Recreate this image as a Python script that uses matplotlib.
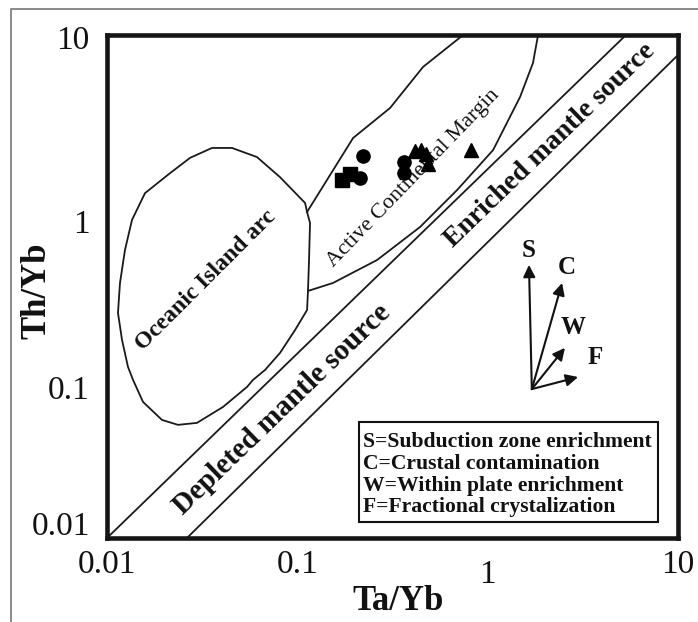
import matplotlib
matplotlib.use("Agg")
import matplotlib.pyplot as plt
from matplotlib.lines import Line2D
from matplotlib.patches import Rectangle, Polygon
import matplotlib.transforms as mtransforms

plt.rcParams['font.family'] = ['Liberation Serif', 'DejaVu Serif']

# ---------------- data ----------------
# Sample points (Ta/Yb, Th/Yb)
sq_x = [0.172, 0.189]
sq_y = [1.36, 1.48]
ci_x = [0.221, 0.213, 0.364, 0.364]
ci_y = [1.90, 1.40, 1.75, 1.50]
tr_x = [0.416, 0.447, 0.474, 0.486, 0.819]
tr_y = [2.03, 2.06, 1.95, 1.70, 2.06]

# Oceanic island arc field boundary
oia_x = [0.0356, 0.0454, 0.0614, 0.0811, 0.1098, 0.1125, 0.1166, 0.1152, 0.1138,
         0.1125, 0.0973, 0.0811, 0.0677, 0.0585, 0.0544, 0.0407, 0.0297, 0.0236,
         0.01945, 0.01546, 0.0137, 0.01289, 0.01199, 0.01142, 0.0117, 0.01243,
         0.01353, 0.01584, 0.02144, 0.0273]
oia_y = [2.12, 2.12, 1.87, 1.42, 0.996, 0.880, 0.757, 0.455, 0.302,
         0.229, 0.174, 0.127, 0.1006, 0.0877, 0.0796, 0.0605, 0.0486, 0.0473,
         0.0506, 0.0648, 0.0877, 0.1048, 0.152, 0.220, 0.332, 0.522,
         0.789, 1.14, 1.50, 1.85]

# Active continental margin boundaries
acm_left_x = [0.1125, 0.1963, 0.307, 0.4577, 0.743]
acm_left_y = [0.880, 2.43, 3.67, 6.45, 10.0]
acm_right_x = [0.1138, 0.154, 0.2624, 0.4414, 0.691, 1.068, 1.48, 1.73, 1.84]
acm_right_y = [0.2975, 0.332, 0.455, 0.716, 1.19, 2.06, 4.27, 6.81, 10.0]

# Mantle array boundaries
mantle_upper_x = [0.01, 5.33]
mantle_upper_y = [0.01, 10.0]
mantle_lower_x = [0.0263, 10.0]
mantle_lower_y = [0.01, 7.6]

# Tick labels
xtick_vals = [0.01, 0.1, 1, 10]
xtick_labels = ['0.01', '0.1', '1', '10']
ytick_vals = [10, 1, 0.1, 0.01]
ytick_labels = ['10', '1', '0.1', '0.01']

# Vector legend (letters, arrow tips in axes fraction, origin shared)
vec_names = ['S', 'C', 'W', 'F']
vec_tip_x = [0.739, 0.797, 0.802, 0.825]
vec_tip_y = [0.543, 0.507, 0.378, 0.320]
vec_lab_x = [0.739, 0.806, 0.816, 0.855]
vec_lab_y = [0.572, 0.538, 0.419, 0.358]
vec_origin = (0.744, 0.296)

key_lines = ['S=Subduction zone enrichment',
             'C=Crustal contamination',
             'W=Within plate enrichment',
             'F=Fractional crystalization']

# ---------------- figure ----------------
W, H = 698, 622
fig = plt.figure(figsize=(W / 100, H / 100), dpi=100)
ax = fig.add_axes([107 / W, 1 - 538 / H, 571 / W, 503 / H])
ax.set_xscale('log')
ax.set_yscale('log')
ax.set_xlim(0.01, 10)
ax.set_ylim(0.01, 10)
ax.set_xticks([])
ax.set_yticks([])
ax.xaxis.set_minor_locator(matplotlib.ticker.NullLocator())
ax.yaxis.set_minor_locator(matplotlib.ticker.NullLocator())
for s in ax.spines.values():
    s.set_linewidth(3.3)
    s.set_color('#151515')

lc = '#1a1a1a'
lw = 1.3
ax.add_patch(Polygon(list(zip(oia_x, oia_y)), closed=True, fill=False,
                     edgecolor=lc, linewidth=lw))
ax.plot(acm_left_x, acm_left_y, color=lc, lw=lw)
ax.plot(acm_right_x, acm_right_y, color=lc, lw=lw)
ax.plot(mantle_upper_x, mantle_upper_y, color=lc, lw=lw)
ax.plot(mantle_lower_x, mantle_lower_y, color=lc, lw=lw)

ax.plot(sq_x, sq_y, 's', color='black', ms=9.5, zorder=5)
ax.plot(ci_x, ci_y, 'o', color='black', ms=9.5, zorder=5)
ax.plot(tr_x, tr_y, '^', color='black', ms=9.5, zorder=5)

# field labels
ax.text(0.173, 0.513, 'Oceanic Island arc', transform=ax.transAxes, rotation=45,
        rotation_mode='anchor', ha='center', va='center', fontsize=17,
        fontweight='bold', color='#111')
ax.text(0.536, 0.716, 'Active Continental Margin', transform=ax.transAxes,
        rotation=46, rotation_mode='anchor', ha='center', va='center',
        fontsize=16, color='#111')
ax.text(0.776, 0.781, 'Enriched mantle source', transform=ax.transAxes,
        rotation=44, rotation_mode='anchor', ha='center', va='center',
        fontsize=20, fontweight='bold', color='#111')
ax.text(0.306, 0.256, 'Depleted mantle source', transform=ax.transAxes,
        rotation=44, rotation_mode='anchor', ha='center', va='center',
        fontsize=21, fontweight='bold', color='#111')

# vectors
for n, tx, ty, lx, ly in zip(vec_names, vec_tip_x, vec_tip_y, vec_lab_x, vec_lab_y):
    ax.annotate('', xy=(tx, ty), xytext=vec_origin, xycoords='axes fraction',
                textcoords='axes fraction',
                arrowprops=dict(arrowstyle='-|>', color='#111', lw=1.5,
                                mutation_scale=18, shrinkA=0, shrinkB=0))
    ax.text(lx, ly, n, transform=ax.transAxes, ha='center', va='center',
            fontsize=18, fontweight='bold', color='#111')

# key box
ax.add_patch(Rectangle((0.441, 0.032), 0.524, 0.199, transform=ax.transAxes,
                       fill=True, facecolor='white', edgecolor='#111', lw=1.5,
                       zorder=6))
key_y = [0.191, 0.147, 0.104, 0.062]
for t, yy in zip(key_lines, key_y):
    ax.text(0.449, yy, t, transform=ax.transAxes, ha='left', va='center',
            fontsize=15.6, fontweight='bold', color='#111', zorder=7)

# tick labels as text
y_off_pts = [-4.3, -15.8, -14.4, 7.9]
for v, lab, off in zip(ytick_vals, ytick_labels, y_off_pts):
    tr = ax.get_yaxis_transform() + mtransforms.ScaledTranslation(0, off / 72, fig.dpi_scale_trans)
    ax.text(-0.030, v, lab, transform=tr, ha='right', va='center', fontsize=24,
            color='#111', clip_on=False)
x_off_pts = [0, 0, -7, 0]
for v, lab, off in zip(xtick_vals, xtick_labels, x_off_pts):
    tr = ax.get_xaxis_transform() + mtransforms.ScaledTranslation(0, off / 72, fig.dpi_scale_trans)
    ax.text(v, -0.054, lab, transform=tr, ha='center', va='center', fontsize=24,
            color='#111', clip_on=False)

fig.text(37 / W, 1 - 291 / H, 'Th/Yb', rotation=90, ha='center', va='center',
         fontsize=25, fontweight='bold', color='#111')
fig.text(398 / W, 1 - 602 / H, 'Ta/Yb', ha='center', va='center',
         fontsize=25, fontweight='bold', color='#111')

# outer figure border (top and left)
bx = 11 / W
by = 1 - 9 / H
fig.add_artist(Line2D([bx, bx, 1.0], [0.0, by, by], transform=fig.transFigure,
                      color='#777777', lw=1.2))

fig.savefig('out.png', dpi=100)
